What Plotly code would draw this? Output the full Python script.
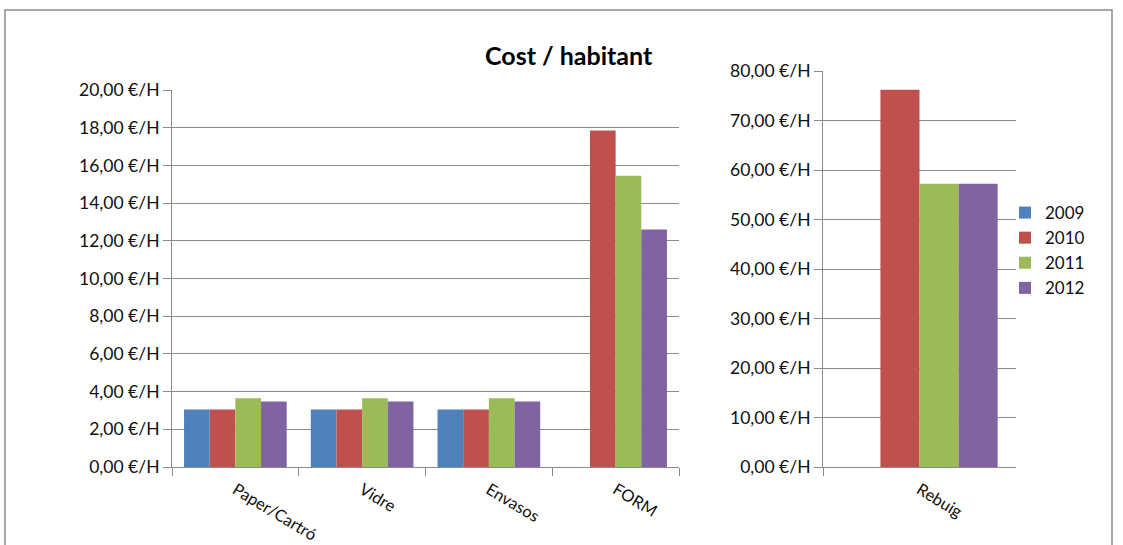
import plotly.graph_objects as go

# Cost per inhabitant by waste stream (€/H)
years = ["2009", "2010", "2011", "2012"]
colors = ["#4F81BD", "#C0504D", "#9BBB59", "#8064A2"]

streams = ["Paper/Cartró", "Vidre", "Envasos", "FORM"]
cost_2009 = [3.05, 3.05, 3.05, None]
cost_2010 = [3.05, 3.05, 3.05, 17.85]
cost_2011 = [3.65, 3.65, 3.65, 15.45]
cost_2012 = [3.47, 3.47, 3.47, 12.6]

rest_stream = ["Rebuig"]
rest_2009 = [None]
rest_2010 = [76.2]
rest_2011 = [57.2]
rest_2012 = [57.2]

left_ticks = [0, 2, 4, 6, 8, 10, 12, 14, 16, 18, 20]
left_tick_text = ["0,00 €/H", "2,00 €/H", "4,00 €/H", "6,00 €/H", "8,00 €/H", "10,00 €/H",
                  "12,00 €/H", "14,00 €/H", "16,00 €/H", "18,00 €/H", "20,00 €/H"]
right_ticks = [0, 10, 20, 30, 40, 50, 60, 70, 80]
right_tick_text = ["0,00 €/H", "10,00 €/H", "20,00 €/H", "30,00 €/H", "40,00 €/H",
                   "50,00 €/H", "60,00 €/H", "70,00 €/H", "80,00 €/H"]

W, H = 1123, 545
FONT = "Lato"
GRID = "#8A8A8A"
TEXT = "#101010"

fig = go.Figure()

left_series = [cost_2009, cost_2010, cost_2011, cost_2012]
right_series = [rest_2009, rest_2010, rest_2011, rest_2012]
for year, color, lv, rv in zip(years, colors, left_series, right_series):
    fig.add_trace(go.Bar(x=streams, y=lv, name=year, marker_color=color,
                         marker_line_width=0, legendgroup=year, xaxis="x", yaxis="y"))
    fig.add_trace(go.Bar(x=rest_stream, y=rv, name=year, marker_color=color,
                         marker_line_width=0, legendgroup=year, showlegend=False,
                         xaxis="x2", yaxis="y2"))

def px_x(p):
    return p / W

def px_y(p):
    return 1 - p / H

axis_common = dict(showline=True, linecolor=GRID, linewidth=1, automargin=False,
                   ticks="outside", ticklen=8, tickcolor=GRID, tickwidth=1)
y_font = dict(size=17.5, family=FONT, color=TEXT)
x_font = dict(size=16.5, family=FONT, color=TEXT)
x_common = dict(type="category", tickson="boundaries", tickangle=31, showgrid=False,
                ticklabelstandoff=6, tickfont=x_font, **axis_common)

fig.update_layout(
    template="none",
    width=W, height=H, autosize=False,
    margin=dict(l=0, r=0, t=0, b=0, pad=0, autoexpand=False),
    paper_bgcolor="white", plot_bgcolor="white",
    barmode="group", bargap=0.19, bargroupgap=0,
    font=dict(family=FONT, color=TEXT),
    xaxis=dict(domain=[px_x(172), px_x(679)], anchor="y", **x_common),
    yaxis=dict(domain=[px_y(467), px_y(90)], anchor="x", range=[0, 20],
               tickvals=left_ticks, ticktext=left_tick_text,
               showgrid=True, gridcolor=GRID, gridwidth=1, zeroline=False,
               tickfont=y_font, **axis_common),
    xaxis2=dict(domain=[px_x(823), px_x(1016)], anchor="y2", **x_common),
    yaxis2=dict(domain=[px_y(467), px_y(71)], anchor="x2", range=[0, 80],
                tickvals=right_ticks, ticktext=right_tick_text,
                showgrid=True, gridcolor=GRID, gridwidth=1, zeroline=False,
                tickfont=y_font, **axis_common),
    legend=dict(x=px_x(1005), y=px_y(195), xanchor="left", yanchor="top",
                font=dict(size=17, family=FONT, color=TEXT),
                bgcolor="rgba(0,0,0,0)", borderwidth=0, itemwidth=30, tracegroupgap=0),
    showlegend=True,
)

fig.add_annotation(text="<b>Cost / habitant</b>", x=px_x(569), y=px_y(55),
                   xref="paper", yref="paper", showarrow=False,
                   xanchor="center", yanchor="middle",
                   font=dict(size=25, family=FONT, color="#000000"))

# outer chart frame
fig.add_shape(type="rect", xref="paper", yref="paper",
              x0=px_x(5), x1=px_x(1112), y0=-0.2, y1=px_y(10),
              line=dict(color="#8A8A8A", width=1.5), fillcolor="rgba(0,0,0,0)",
              layer="below")

fig.write_html("out.html")
